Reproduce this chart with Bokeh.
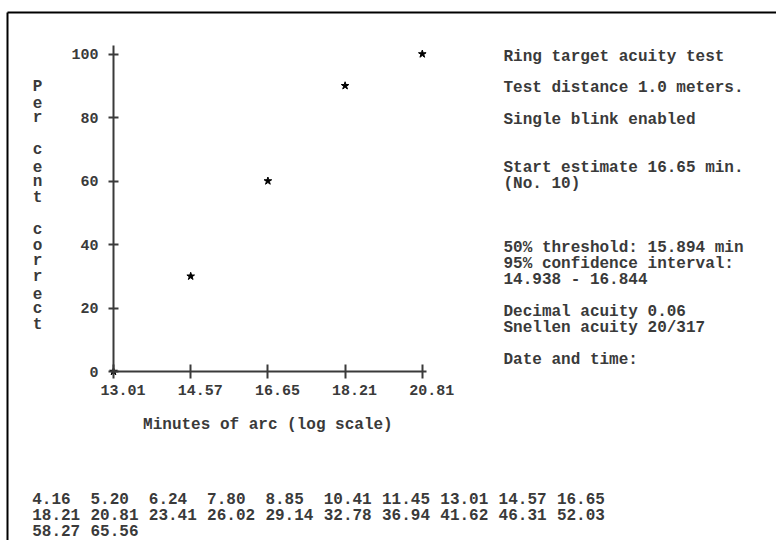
from bokeh.plotting import figure
from bokeh.models import Range1d, LinearAxis, FixedTicker, Label
from bokeh.core.properties import value
from bokeh.embed import file_html
from bokeh.resources import INLINE

# ---------------- data ----------------
tick_labels = ["13.01", "14.57", "16.65", "18.21", "20.81"]
sizes = [13.01, 14.57, 16.65, 18.21, 20.81]
percent_correct = [0, 30, 60, 90, 100]
y_ticks = [0, 20, 40, 60, 80, 100]
y_title = "Per cent correct"
x_title = "Minutes of arc (log scale)"
info_lines = [
    "Ring target acuity test",
    "",
    "Test distance 1.0 meters.",
    "",
    "Single blink enabled",
    "",
    "",
    "Start estimate 16.65 min.",
    "(No. 10)",
    "",
    "",
    "",
    "50% threshold: 15.894 min",
    "95% confidence interval:",
    "14.938 - 16.844",
    "",
    "Decimal acuity 0.06",
    "Snellen acuity 20/317",
    "",
    "Date and time:",
]
size_list = ["4.16", "5.20", "6.24", "7.80", "8.85", "10.41", "11.45", "13.01", "14.57", "16.65",
             "18.21", "20.81", "23.41", "26.02", "29.14", "32.78", "36.94", "41.62", "46.31", "52.03",
             "58.27", "65.56"]

# ---------------- layout constants (picture pixels) ----------------
W, H = 776, 540
X0_PX, DX_PX = 113.0, 77.2     # x of first size, spacing per size step
Y0_PX, DY_PX = 371.0, 3.175    # y of 0 %, pixels per percent
x_start = -X0_PX / DX_PX
x_end = x_start + W / DX_PX
y_top = Y0_PX / DY_PX
y_bottom = y_top - H / DY_PX


def xd(px):
    return x_start + px / DX_PX


def yd(py):
    return y_top - py / DY_PX


FONT = "Liberation Mono"
STYLE = "bold"
TXT = "#3a3a3a"
AX = "#3a3a3a"

p = figure(width=W, height=H, output_backend="svg", toolbar_location=None,
           x_axis_type=None, y_axis_type=None,
           x_range=Range1d(x_start, x_end), y_range=Range1d(y_bottom, y_top),
           min_border=0, outline_line_color=None, background_fill_color="white",
           border_fill_color="white")
p.title.visible = False

# frame lines of the printout (top and left edges)
p.segment(x0=[xd(7), xd(7)], y0=[yd(12), yd(12)], x1=[xd(W + 10), xd(7)], y1=[yd(12), yd(H + 10)],
          line_color="black", line_width=2)

# axes
yaxis = LinearAxis(fixed_location=0, bounds=(0, 102.7), ticker=FixedTicker(ticks=y_ticks),
                   axis_line_color=AX, axis_line_width=2,
                   major_tick_line_color=AX, major_tick_line_width=2,
                   major_tick_in=5, major_tick_out=5, minor_tick_line_color=None,
                   major_label_standoff=10,
                   major_label_text_font=FONT, major_label_text_font_size="15px",
                   major_label_text_font_style=STYLE, major_label_text_color=TXT)
p.add_layout(yaxis, "left")

xpos = list(range(len(tick_labels)))
xaxis = LinearAxis(fixed_location=0, bounds=(0, 4.05), ticker=FixedTicker(ticks=xpos),
                   axis_line_color=AX, axis_line_width=2,
                   major_tick_line_color=AX, major_tick_line_width=2,
                   major_tick_in=7, major_tick_out=7, minor_tick_line_color=None,
                   major_label_overrides={i: "" for i in xpos})
p.add_layout(xaxis, "below")

# x tick labels (printed slightly right of their ticks)
p.text(x=xpos, y=[0] * len(xpos), text=tick_labels, x_offset=-13, y_offset=18,
       text_align="left", text_baseline="middle", text_font=value(FONT),
       text_font_size="15px", text_font_style=STYLE, text_color=TXT)

# data points
pt_x = [tick_labels.index(f"{s:.2f}") for s in sizes]
p.scatter(x=pt_x, y=percent_correct, marker="star", size=8,
          fill_color="black", line_color="black")

# axis titles
p.add_layout(Label(x=2, y=yd(424), text=x_title, text_align="center", text_baseline="middle",
                   text_font=FONT, text_font_size="16px", text_font_style=STYLE, text_color=TXT))
letters = list(y_title)
p.text(x=[xd(37)] * len(letters), y=[yd(86 + 15.9 * i) for i in range(len(letters))],
       text=letters, text_align="center", text_baseline="middle", text_font=value(FONT),
       text_font_size="16px", text_font_style=STYLE, text_color=TXT)

# info block on the right
info = [(t, i) for i, t in enumerate(info_lines) if t]
p.text(x=[xd(503)] * len(info), y=[yd(56 + 15.95 * i) for _, i in info],
       text=[t for t, _ in info], text_align="left", text_baseline="middle",
       text_font=value(FONT), text_font_size="16px", text_font_style=STYLE, text_color=TXT)

# list of available target sizes
cols = 10
p.text(x=[xd(31.7 + 58.3 * (k % cols)) for k in range(len(size_list))],
       y=[yd(497.5 + 16 * (k // cols)) for k in range(len(size_list))],
       text=size_list, text_align="left", text_baseline="middle",
       text_font=value(FONT), text_font_size="16px", text_font_style=STYLE, text_color=TXT)

open("out.html", "w").write(file_html(p, INLINE))
